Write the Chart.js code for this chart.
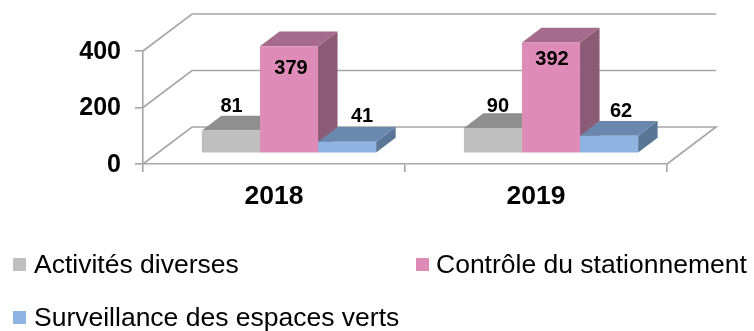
<!DOCTYPE html>
<html><head><meta charset="utf-8">
<style>html,body{margin:0;padding:0;background:#fff}canvas{display:block}</style>
<script src="https://cdn.jsdelivr.net/npm/chart.js@4"></script>
</head><body><canvas id="c" width="754" height="331"></canvas>
<script>
const categories = ['2018', '2019'];
const activites = [81, 90];
const controle = [379, 392];
const surveillance = [41, 62];
const yTicks = [0, 200, 400];
const seriesNames = ['Activités diverses', 'Contrôle du stationnement', 'Surveillance des espaces verts'];
const frontColors = ['#BFBFBF', '#DE8CB7', '#8DB4E2'];
const topColors = ['#8F8F8F', '#A66B8C', '#6A88AD'];
const sideColors = ['#7F7F7F', '#8B5A75', '#5A7696'];
const FONT = '"Liberation Sans", Arial, sans-serif';
const GRID = '#A6A6A6';
// projection offsets
const wall = {dx: 49, dy: -37};
const base = {dx: 15, dy: -10.7};
const depth = {dx: 19.5, dy: -14.7};
// per-label nudges from the bar centre / front top [dx, dy]
const labelNudge = [[[0.7,-24],[5,-21.5]],[[2,22],[1,17]],[[15,-25.7],[12,-24.5]]];
const legendPos = [[13,258,34,266],[416,258,436,266],[13,311,34,319]];

const threeD = {
  id: 'threeD',
  beforeDatasetsDraw(chart) {
    const {ctx, chartArea: a, scales: {y}} = chart;
    ctx.save();
    ctx.strokeStyle = GRID; ctx.lineWidth = 1.6;
    const zero = y.getPixelForValue(0);
    yTicks.forEach(v => {
      const p = y.getPixelForValue(v);
      ctx.beginPath();
      ctx.moveTo(a.left, p);
      ctx.lineTo(a.left + wall.dx, p + wall.dy);
      ctx.lineTo(a.right + wall.dx, p + wall.dy);
      if (v === 0) ctx.lineTo(a.right, zero);
      ctx.stroke();
    });
    // side and top faces, in category/series order
    chart.data.datasets.forEach((ds, i) => {
      chart.getDatasetMeta(i).data.forEach(bar => {
        const l = bar.x - bar.width / 2 + base.dx, r = bar.x + bar.width / 2 + base.dx;
        const t = bar.y + base.dy, b = bar.base + base.dy;
        ctx.fillStyle = sideColors[i];
        ctx.beginPath();
        ctx.moveTo(r, t); ctx.lineTo(r + depth.dx, t + depth.dy);
        ctx.lineTo(r + depth.dx, b + depth.dy); ctx.lineTo(r, b); ctx.closePath(); ctx.fill();
        ctx.fillStyle = topColors[i];
        ctx.beginPath();
        ctx.moveTo(l, t); ctx.lineTo(l + depth.dx, t + depth.dy);
        ctx.lineTo(r + depth.dx, t + depth.dy); ctx.lineTo(r, t); ctx.closePath(); ctx.fill();
      });
    });
    ctx.restore();
    ctx.save();
    ctx.translate(base.dx, base.dy);
  },
  afterDatasetsDraw(chart) {
    const {ctx} = chart;
    ctx.restore();
    ctx.save();
    ctx.fillStyle = '#000';
    ctx.font = 'bold 20px ' + FONT;
    ctx.textAlign = 'center'; ctx.textBaseline = 'middle';
    chart.data.datasets.forEach((ds, i) => {
      chart.getDatasetMeta(i).data.forEach((bar, j) => {
        const n = labelNudge[i][j];
        ctx.fillText(String(ds.data[j]), bar.x + base.dx + n[0], bar.y + base.dy + n[1]);
      });
    });
    // legend
    ctx.textAlign = 'left';
    ctx.font = '26.5px ' + FONT;
    seriesNames.forEach((name, i) => {
      const p = legendPos[i];
      ctx.fillStyle = frontColors[i];
      ctx.fillRect(p[0], p[1], 13, 13);
      ctx.fillStyle = '#000';
      ctx.fillText(name, p[2], p[3]);
    });
    ctx.restore();
  }
};

new Chart(document.getElementById('c'), {
  type: 'bar',
  data: {
    labels: categories,
    datasets: [activites, controle, surveillance].map((d, i) => ({
      label: seriesNames[i], data: d, backgroundColor: frontColors[i], borderWidth: 0,
      barPercentage: 1, categoryPercentage: 0.665
    }))
  },
  options: {
    responsive: false, animation: false,
    layout: {padding: {top: 51, right: 87, left: 0, bottom: 0}},
    plugins: {legend: {display: false}, tooltip: {enabled: false}},
    scales: {
      x: {
        grid: {drawOnChartArea: false, color: GRID, lineWidth: 1.6, tickLength: 8, offset: true},
        border: {color: GRID, width: 1.6},
        ticks: {color: '#000', font: {family: FONT, size: 26.5, weight: 'bold'}, padding: 9},
        afterFit: s => { s.height = 167; }
      },
      y: {
        min: 0, max: 400,
        grid: {drawOnChartArea: false, color: GRID, lineWidth: 1.6, tickLength: 8},
        border: {color: GRID, width: 1.6},
        ticks: {stepSize: 200, color: '#000', font: {family: FONT, size: 25, weight: 'bold'}, padding: 14, labelOffset: 1},
        afterFit: s => { s.width = 143; }
      }
    }
  },
  plugins: [threeD]
});
</script></body></html>
